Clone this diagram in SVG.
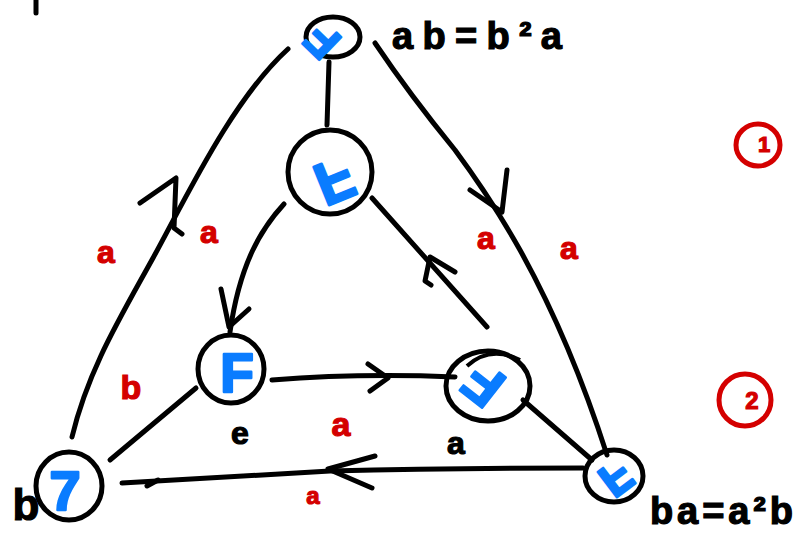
<svg xmlns="http://www.w3.org/2000/svg" width="796" height="534" viewBox="0 0 796 534">
<style>
.e{fill:none;stroke:#000;stroke-width:5;stroke-linecap:round;stroke-linejoin:round}
.n{fill:none;stroke:#000;stroke-width:5}
.g{fill:#0a7cff;stroke:#0a7cff;stroke-width:2.5;stroke-linejoin:round;font-family:"Liberation Sans",Arial,sans-serif;font-weight:bold;text-anchor:middle}
.r{fill:#d40000;stroke:#d40000;stroke-width:1.2;font-family:"Liberation Sans",Arial,sans-serif;font-weight:bold;text-anchor:middle}
.k{fill:#000;stroke:#000;stroke-width:1.2;font-family:"Liberation Sans",Arial,sans-serif;font-weight:bold}
.rc{fill:none;stroke:#d40000;stroke-width:5}
</style>
<rect width="796" height="534" fill="#fff"/>
<g id="connectors">
<path class="e" d="M36,0 L36,13"/>
<path class="e" d="M329,62 L327,125"/>
<path class="e" d="M284,204 C262,228 240,262 230,332"/>
<path class="e" d="M221,289 L229,327 L249,309"/>
<path class="e" d="M272,380 Q360,373 455,377"/>
<path class="e" d="M368,364 L388,378 L370,391"/>
<path class="e" d="M487,327 L372,198"/>
<path class="e" d="M431,285 L425,281 L430,257 L455,272"/>
<path class="e" d="M375,43 Q410,95 455,150 Q492,200 520,250 Q570,340 607,455"/>
<path class="e" d="M470,190 L502,212 L507,170"/>
<path class="e" d="M583,468 Q450,468 330,471 Q220,477 122,483"/>
<path class="e" d="M375,456 L328,469 L372,488"/>
<path class="e" d="M147,486 L158,480"/>
<path class="e" d="M72,437 C88,370 120,318 153,258 S232,100 288,49"/>
<path class="e" d="M140,203 L176,178 L174,228 L182,234"/>
<path class="e" d="M110,460 L196,388"/>
<path class="e" d="M523,400 L592,460"/>
</g>
<g id="node-top">
<ellipse class="n" cx="333" cy="37" rx="27" ry="20"/>
<text class="g" font-size="46" transform="translate(322,41) rotate(-136)" x="0" y="16">F</text>
</g>
<g id="node-middle">
<ellipse class="n" cx="330" cy="172" rx="42" ry="42"/>
<text class="g" font-size="60" transform="translate(335,182) rotate(-22) scale(1,-1)" x="0" y="22">F</text>
</g>
<g id="node-F">
<ellipse class="n" cx="231" cy="369" rx="33" ry="34"/>
<text class="g" font-size="55" x="237" y="392">F</text>
</g>
<g id="node-Y">
<ellipse class="n" cx="488" cy="386" rx="42" ry="35"/>
<path d="M467,366 Q490,345 520,360" fill="none" stroke="#000" stroke-width="4"/>
<text class="g" font-size="56" transform="translate(483,385) rotate(-142)" x="0" y="20">F</text>
</g>
<g id="node-BR">
<ellipse class="n" cx="614" cy="476" rx="29" ry="26"/>
<text class="g" font-size="46" transform="translate(616,478) rotate(-37) scale(1,-1)" x="0" y="16">F</text>
</g>
<g id="node-BL">
<ellipse class="n" cx="69" cy="486" rx="33" ry="34"/>
<text class="g" font-size="56" x="65" y="510">7</text>
</g>
<g id="labels">
<text class="r" font-size="32" x="106" y="263">a</text>
<text class="r" font-size="32" x="209" y="243">a</text>
<text class="r" font-size="32" x="486" y="249">a</text>
<text class="r" font-size="32" x="569" y="259">a</text>
<text class="r" font-size="34" x="131" y="399">b</text>
<text class="r" font-size="34" x="341" y="436">a</text>
<text class="r" font-size="24" x="313" y="504">a</text>
<text class="k" font-size="32" x="240" y="444" text-anchor="middle">e</text>
<text class="k" font-size="32" x="456" y="454" text-anchor="middle">a</text>
<text class="k" font-size="44" x="26" y="520" text-anchor="middle">b</text>
<text class="k" font-size="38" x="392" y="49" textLength="170" lengthAdjust="spacing">ab=b²a</text>
<text class="k" font-size="38" x="650" y="524" textLength="143" lengthAdjust="spacing">ba=a²b</text>
</g>
<g id="mark-1">
<ellipse class="rc" cx="758" cy="145" rx="22" ry="21"/>
<text class="r" font-size="22" x="764" y="152">1</text>
</g>
<g id="mark-2">
<ellipse class="rc" cx="745" cy="400" rx="26" ry="26"/>
<text class="r" font-size="24" x="752" y="409">2</text>
</g>
</svg>
